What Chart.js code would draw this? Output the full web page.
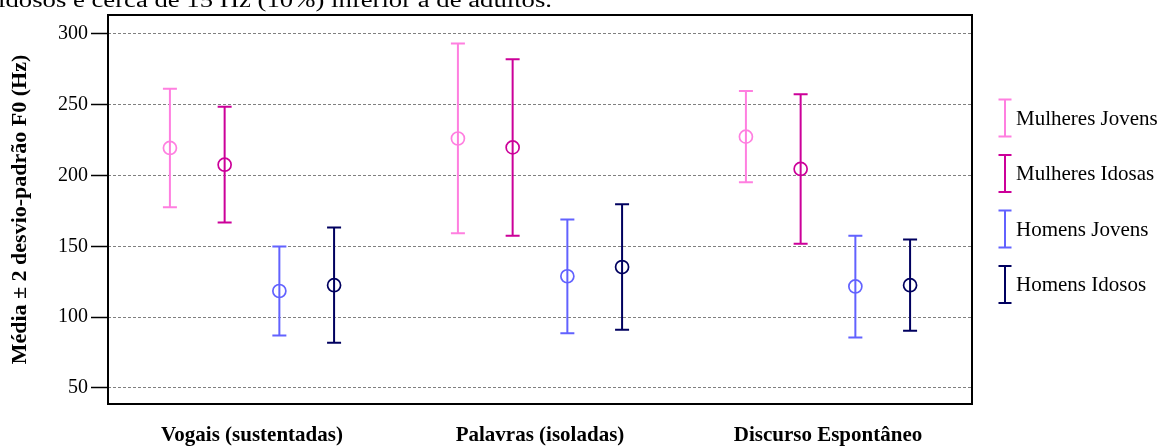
<!DOCTYPE html>
<html>
<head>
<meta charset="utf-8">
<script src="https://cdn.jsdelivr.net/npm/chart.js@4/dist/chart.umd.min.js"></script>
<style>
  html, body { margin: 0; padding: 0; background: #fff; }
  #wrap { width: 1162px; height: 446px; }
</style>
</head>
<body>
<div id="wrap"><canvas id="c" width="1162" height="446"></canvas></div>
<script>
// Speech tasks on the x axis
const categories = ['Vogais (sustentadas)', 'Palavras (isoladas)', 'Discurso Espontâneo'];

// Groups of speakers
const seriesNames = ['Mulheres Jovens', 'Mulheres Idosas', 'Homens Jovens', 'Homens Idosos'];
const seriesColors = ['#ff7fe0', '#cc0099', '#6262ff', '#00005f'];

// Mean F0 (Hz) per task
const meanMulheresJovens = [219.5, 226.2, 227.5];
const meanMulheresIdosas = [207.7, 219.9, 204.7];
const meanHomensJovens   = [118.5, 128.9, 121.7];
const meanHomensIdosos   = [122.6, 135.4, 122.6];

// Mean - 2 SD (Hz)
const lowMulheresJovens = [177.7, 159.2, 195.3];
const lowMulheresIdosas = [166.9, 157.5, 151.9];
const lowHomensJovens   = [87.1, 88.7, 85.7];
const lowHomensIdosos   = [81.9, 91.1, 90.4];

// Mean + 2 SD (Hz)
const highMulheresJovens = [261.4, 293.2, 259.8];
const highMulheresIdosas = [248.6, 282.2, 257.5];
const highHomensJovens   = [150.0, 169.0, 157.6];
const highHomensIdosos   = [163.4, 179.8, 154.9];

// Y axis ticks
const yTicks = [50, 100, 150, 200, 250, 300];

const caption = 'idosos é cerca de 15 Hz (10%) inferior à de adultos.';

const means = [meanMulheresJovens, meanMulheresIdosas, meanHomensJovens, meanHomensIdosos];
const lows  = [lowMulheresJovens, lowMulheresIdosas, lowHomensJovens, lowHomensIdosos];
const highs = [highMulheresJovens, highMulheresIdosas, highHomensJovens, highHomensIdosos];

const SERIF = '"Liberation Serif", "Times New Roman", serif';
const spread = 0.19;                      // horizontal gap between series inside a task
const offsetOf = i => (i - 1.5) * spread;

const datasets = seriesNames.map((name, i) => ({
  label: name,
  data: means[i].map((m, j) => ({ x: j + 0.5 + offsetOf(i), y: m })),
  borderColor: seriesColors[i],
  backgroundColor: 'rgba(0,0,0,0)',
  pointRadius: 6.5,
  pointBorderWidth: 1.7,
  pointStyle: 'circle',
  showLine: false
}));

// Vertical whiskers with caps, drawn beneath the mean circles
const errorBars = {
  id: 'errorBars',
  beforeDatasetsDraw(chart) {
    const { ctx, scales: { x, y } } = chart;
    ctx.save();
    ctx.lineWidth = 2;
    seriesNames.forEach((_, i) => {
      ctx.strokeStyle = seriesColors[i];
      means[i].forEach((_, j) => {
        const px = x.getPixelForValue(j + 0.5 + offsetOf(i));
        const yt = y.getPixelForValue(highs[i][j]);
        const yb = y.getPixelForValue(lows[i][j]);
        ctx.beginPath();
        ctx.moveTo(px, yt); ctx.lineTo(px, yb);
        ctx.moveTo(px - 7, yt); ctx.lineTo(px + 7, yt);
        ctx.moveTo(px - 7, yb); ctx.lineTo(px + 7, yb);
        ctx.stroke();
      });
    });
    ctx.restore();
  }
};

// Box around the plotting area
const frame = {
  id: 'frame',
  afterDraw(chart) {
    const { ctx, chartArea: a } = chart;
    ctx.save();
    ctx.strokeStyle = '#000';
    ctx.lineWidth = 2;
    ctx.strokeRect(a.left, a.top, a.right - a.left, a.bottom - a.top);
    ctx.restore();
  }
};

// Legend with whisker symbols on the right
const whiskerLegend = {
  id: 'whiskerLegend',
  afterDraw(chart) {
    const { ctx, chartArea: a } = chart;
    ctx.save();
    ctx.font = '21px ' + SERIF;
    ctx.textBaseline = 'middle';
    ctx.textAlign = 'left';
    const ix = a.right + 33;
    seriesNames.forEach((name, i) => {
      const cy = 118 + i * 55.5;
      ctx.strokeStyle = seriesColors[i];
      ctx.lineWidth = 2;
      ctx.beginPath();
      ctx.moveTo(ix, cy - 18.5); ctx.lineTo(ix, cy + 18.5);
      ctx.moveTo(ix - 6.5, cy - 18.5); ctx.lineTo(ix + 6.5, cy - 18.5);
      ctx.moveTo(ix - 6.5, cy + 18.5); ctx.lineTo(ix + 6.5, cy + 18.5);
      ctx.stroke();
      ctx.fillStyle = '#000';
      ctx.fillText(name, ix + 11, cy + 1);
    });
    ctx.restore();
  }
};

// Tail of the preceding paragraph, clipped by the top edge
const captionLine = {
  id: 'captionLine',
  afterDraw(chart) {
    const { ctx } = chart;
    ctx.save();
    ctx.font = '20px ' + SERIF;
    ctx.fillStyle = '#000';
    ctx.textBaseline = 'alphabetic';
    const w = ctx.measureText(caption).width;
    ctx.translate(-2, 7);
    ctx.scale(554 / w, 1);
    ctx.fillText(caption, 0, 0);
    ctx.restore();
  }
};

new Chart(document.getElementById('c'), {
  type: 'scatter',
  data: { datasets },
  options: {
    responsive: false,
    animation: false,
    devicePixelRatio: 1,
    layout: { padding: { top: 14, right: 190, left: 0, bottom: 0 } },
    plugins: { legend: { display: false }, tooltip: { enabled: false } },
    scales: {
      x: {
        type: 'linear',
        min: 0,
        max: 3,
        afterBuildTicks: s => { s.ticks = categories.map((_, i) => ({ value: i + 0.5 })); },
        afterFit: s => { s.height = 42; },
        grid: { display: false },
        border: { display: false },
        ticks: {
          callback: v => categories[Math.floor(v)],
          color: '#000',
          font: { family: SERIF, size: 21, weight: 'bold' },
          padding: 11,
          maxRotation: 0,
          autoSkip: false
        }
      },
      y: {
        min: 38.7,
        max: 313.4,
        afterBuildTicks: s => { s.ticks = yTicks.map(v => ({ value: v })); },
        afterFit: s => { s.width = 108; },
        border: { display: false, dash: [3, 2] },
        grid: {
          color: '#808080',
          lineWidth: 1,
          drawTicks: true,
          tickLength: 17,
          tickColor: '#000',
          tickWidth: 1.5,
          tickBorderDash: []
        },
        ticks: {
          color: '#000',
          font: { family: SERIF, size: 20 },
          padding: 3
        },
        title: {
          display: true,
          text: 'Média ± 2 desvio-padrão F0 (Hz)',
          color: '#000',
          font: { family: SERIF, size: 22, weight: 'bold' },
          padding: { top: 7, bottom: 2 }
        }
      }
    }
  },
  plugins: [errorBars, frame, whiskerLegend, captionLine]
});
</script>
</body>
</html>
